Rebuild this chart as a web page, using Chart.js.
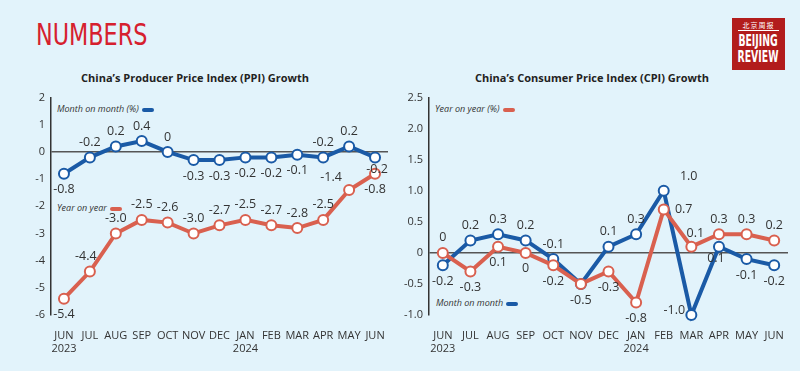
<!DOCTYPE html>
<html>
<head>
<meta charset="utf-8">
<script src="https://cdn.jsdelivr.net/npm/chart.js@4.4.1/dist/chart.umd.min.js"></script>
<style>
  body { margin: 0; background: #e2f3fb; font-family: "Open Sans", sans-serif; }
  #page { position: relative; width: 800px; height: 371px; overflow: hidden; background: #e2f3fb; }
  .abs { position: absolute; }
  #headline { left: 36px; top: 16px; font-family: "DejaVu Sans", sans-serif; font-size: 31px; color: #d6202e; transform: scaleX(0.72); transform-origin: 0 0; white-space: nowrap; }
  .title { top: 70px; width: 300px; text-align: center; font-weight: bold; font-size: 11px; color: #222; }
  .legend { font-style: italic; font-size: 9px; color: #333; white-space: nowrap; }
  .legend span { display: inline-block; width: 12px; height: 4px; border-radius: 2px; vertical-align: middle; margin-left: 3px; }
  #logo { left: 732px; top: 18px; width: 53px; height: 52px; background: #b21c1c; color: #fff; overflow: hidden; }
  #logo .cn { position: absolute; left: 6px; top: 3px; width: 41px; font-size: 7px; text-align: center; letter-spacing: 1px; border-bottom: 1px solid #fff; line-height: 9px; font-family: "Noto Sans CJK SC", sans-serif; }
  #logo .en { position: absolute; left: 26px; font-family: "DejaVu Sans", sans-serif; font-weight: bold; font-size: 15px; line-height: 15px; transform: translateX(-50%) scaleX(0.62); white-space: nowrap; }
  canvas { position: absolute; }
</style>
</head>
<body>
<div id="page">
  <div id="headline" class="abs">NUMBERS</div>
  <div id="logo" class="abs"><div class="cn">北京周报</div><div class="en" style="top:16px">BEIJING</div><div class="en" style="top:32px">REVIEW</div></div>
  <div class="abs title" style="left:45px">China’s Producer Price Index (PPI) Growth</div>
  <div class="abs title" style="left:442px">China’s Consumer Price Index (CPI) Growth</div>
  <div class="abs legend" style="left:57px; top:102px">Month on month (%)<span style="background:#1a5aa6"></span></div>
  <div class="abs legend" style="left:57px; top:201px">Year on year<span style="background:#d9604f"></span></div>
  <div class="abs legend" style="left:435px; top:102px">Year on year (%)<span style="background:#d9604f"></span></div>
  <div class="abs legend" style="left:436px; top:296px">Month on month<span style="background:#1a5aa6"></span></div>
  <canvas id="ppiChart" width="400" height="286" style="left:0; top:85px"></canvas>
  <canvas id="cpiChart" width="400" height="286" style="left:400px; top:85px"></canvas>
</div>
<script>
var months = ['JUN', 'JUL', 'AUG', 'SEP', 'OCT', 'NOV', 'DEC', 'JAN', 'FEB', 'MAR', 'APR', 'MAY', 'JUN'];
var years = ['2023', '', '', '', '', '', '', '2024', '', '', '', '', ''];

var ppi_mom = [-0.8, -0.2, 0.2, 0.4, 0, -0.3, -0.3, -0.2, -0.2, -0.1, -0.2, 0.2, -0.2];
var ppi_yoy = [-5.4, -4.4, -3.0, -2.5, -2.6, -3.0, -2.7, -2.5, -2.7, -2.8, -2.5, -1.4, -0.8];

var cpi_yoy = [0, -0.3, 0.1, 0, -0.2, -0.5, -0.3, -0.8, 0.7, 0.1, 0.3, 0.3, 0.2];
var cpi_mom = [-0.2, 0.2, 0.3, 0.2, -0.1, -0.5, 0.1, 0.3, 1.0, -1.0, 0.1, -0.1, -0.2];

var BLUE = '#1a5aa6';
var RED = '#d9604f';

// label offsets (dx, dy) from each point
var A = [0, -15], B = [0, 16];
var ppi_mom_pos = [B, A, A, A, A, B, B, B, B, B, A, A, [2, 12]];
var ppi_yoy_pos = [B, [-4, -15], A, A, A, A, A, A, A, A, A, [-18, -13], B];
var cpi_yoy_pos = [A, B, B, B, B, null, B, B, [20, 0], [4, -13], A, A, A];
var cpi_mom_pos = [B, A, A, A, A, B, A, A, [25, -14], [-17, -5], [-3, 12], B, B];

var labels = months.map(function (m, i) {
    return years[i] ? [m, years[i]] : m;
});

function fmt(v) {
    return v === 0 ? '0' : v.toFixed(1);
}

var valueLabels = {
    id: 'valueLabels',
    afterDatasetsDraw: function (chart) {
        var ctx = chart.ctx;
        ctx.save();
        ctx.font = '12.5px "Open Sans", sans-serif';
        ctx.fillStyle = '#333';
        ctx.textAlign = 'center';
        ctx.textBaseline = 'middle';
        chart.data.datasets.forEach(function (ds, i) {
            var meta = chart.getDatasetMeta(i);
            meta.data.forEach(function (pt, j) {
                var off = ds.labelPos[j];
                if (!off) return;
                ctx.fillText(fmt(ds.data[j]), pt.x + off[0], pt.y + off[1]);
            });
        });
        ctx.restore();
    }
};

function lineSet(data, color, pos) {
    return {
        data: data,
        labelPos: pos,
        clip: false,
        borderColor: color,
        borderWidth: 4,
        pointRadius: 5,
        pointBorderWidth: 2,
        pointBackgroundColor: '#fff',
        pointBorderColor: color,
        tension: 0
    };
}

function makeOptions(min, max, step, padLeft, axisWidth, tickFmt) {
    return {
        responsive: false,
        animation: false,
        layout: { padding: { left: padLeft, top: 11, right: 12, bottom: 16 } },
        plugins: { legend: { display: false }, tooltip: { enabled: false } },
        scales: {
            x: {
                offset: true,
                grid: { display: false },
                border: { display: false },
                ticks: { color: '#333', font: { size: 11, family: 'Open Sans' }, padding: 6, maxRotation: 0, autoSkip: false },
                afterFit: function (s) { s.height = 40; }
            },
            y: {
                min: min,
                max: max,
                border: { display: true, color: '#333', width: 1.5 },
                grid: {
                    drawTicks: false,
                    lineWidth: 1.5,
                    color: function (c) { return c.tick && c.tick.value === 0 ? '#555' : 'rgba(0,0,0,0)'; }
                },
                ticks: { stepSize: step, color: '#333', font: { size: 11, family: 'Open Sans' }, padding: 6, callback: tickFmt },
                afterFit: function (s) { s.width = axisWidth; }
            }
        }
    };
}

new Chart(document.getElementById('ppiChart').getContext('2d'), {
    type: 'line',
    data: {
        labels: labels,
        datasets: [lineSet(ppi_yoy, RED, ppi_yoy_pos), lineSet(ppi_mom, BLUE, ppi_mom_pos)]
    },
    options: makeOptions(-6, 2, 1, 21, 30, function (v) { return String(v); }),
    plugins: [valueLabels]
});

new Chart(document.getElementById('cpiChart').getContext('2d'), {
    type: 'line',
    data: {
        labels: labels,
        datasets: [lineSet(cpi_yoy, RED, cpi_yoy_pos), lineSet(cpi_mom, BLUE, cpi_mom_pos)]
    },
    options: makeOptions(-1, 2.5, 0.5, 0, 29, function (v) { return fmt(v); }),
    plugins: [valueLabels]
});
</script>
</body>
</html>
